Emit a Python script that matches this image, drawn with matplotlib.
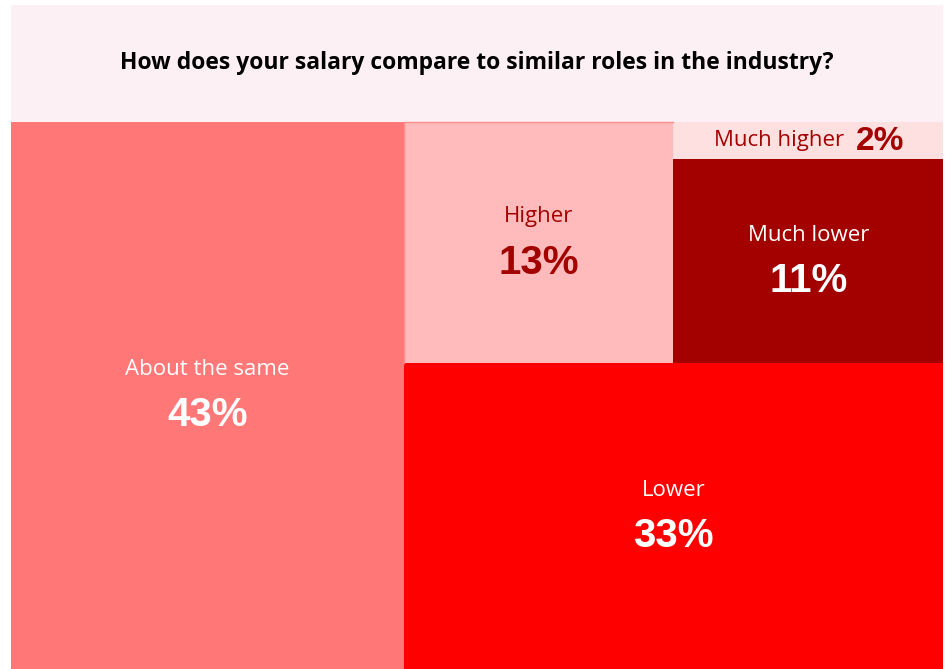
import matplotlib.pyplot as plt
from matplotlib.patches import Rectangle

# survey answers and their shares (%)
answers = ["About the same", "Higher", "Much higher", "Much lower", "Lower"]
shares = [43, 13, 2, 11, 33]
tile_colors = ["#ff7777", "#ffbbbb", "#ffe0e0", "#a30000", "#ff0000"]
text_colors = ["white", "#a30000", "#a30000", "white", "white"]

title = "How does your salary compare to similar roles in the industry?"

W_PX, H_PX = 949, 669
fig = plt.figure(figsize=(W_PX / 100, H_PX / 100), dpi=100)
ax = fig.add_axes([0, 0, 1, 1])
ax.set_xlim(0, W_PX)
ax.set_ylim(H_PX, 0)
ax.axis("off")

# plot area (pixels)
x0, x1 = 11, 943
top, y1 = 122, 669

# header band
ax.add_patch(Rectangle((x0, 5), x1 - x0, top - 5, color="#fdf0f5", lw=0))
ax.text((x0 + x1) / 2, 63, title, ha="center", va="center",
        fontsize=16.5, fontweight="bold", family=["Open Sans", "DejaVu Sans"])

val = dict(zip(answers, shares))
total = sum(shares)

# slice-and-dice: left column, then right part split into a top row and a bottom tile
w = x1 - x0
h = y1 - top
left_w = w * val["About the same"] / total
right_x = x0 + left_w
right_w = x1 - right_x
top_group = val["Higher"] + val["Much higher"] + val["Much lower"]
top_h = h * top_group / (top_group + val["Lower"])
higher_w = right_w * val["Higher"] / top_group
stack_x = right_x + higher_w
stack_w = x1 - stack_x
mh_h = top_h * val["Much higher"] / (val["Much higher"] + val["Much lower"])

boxes = {
    "About the same": (x0, top, left_w, h),
    "Higher": (right_x, top, higher_w, top_h),
    "Much higher": (stack_x, top, stack_w, mh_h),
    "Much lower": (stack_x, top + mh_h, stack_w, top_h - mh_h),
    "Lower": (right_x, top + top_h, right_w, h - top_h),
}

label_font = dict(family=["Open Sans", "DejaVu Sans"], fontsize=16)
pct_font = dict(family=["Liberation Sans", "DejaVu Sans"], fontsize=29, fontweight="bold")

for name, share, fc, tc in zip(answers, shares, tile_colors, text_colors):
    bx, by, bw, bh = boxes[name]
    ax.add_patch(Rectangle((bx, by), bw, bh, facecolor=fc, edgecolor="none"))
    cx, cy = bx + bw / 2, by + bh / 2
    if name == "Much higher":
        ax.text(cx + 36, cy, name, ha="right", va="center", color=tc, **label_font)
        ax.text(cx + 48, cy + 1, f"{share}%", ha="left", va="center", color=tc,
                family=pct_font["family"], fontweight="bold", fontsize=24)
    else:
        ax.text(cx, cy - 26, name, ha="center", va="center", color=tc, **label_font)
        ax.text(cx, cy + 20, f"{share}%", ha="center", va="center", color=tc, **pct_font)

# thin outline on the "Higher" tile
hx, hy, hw, hh = boxes["Higher"]
ax.plot([hx, hx, hx + hw], [hy + hh, hy, hy], color="#ff8c8c", lw=1)

fig.savefig("out.png", dpi=100, facecolor="white")
